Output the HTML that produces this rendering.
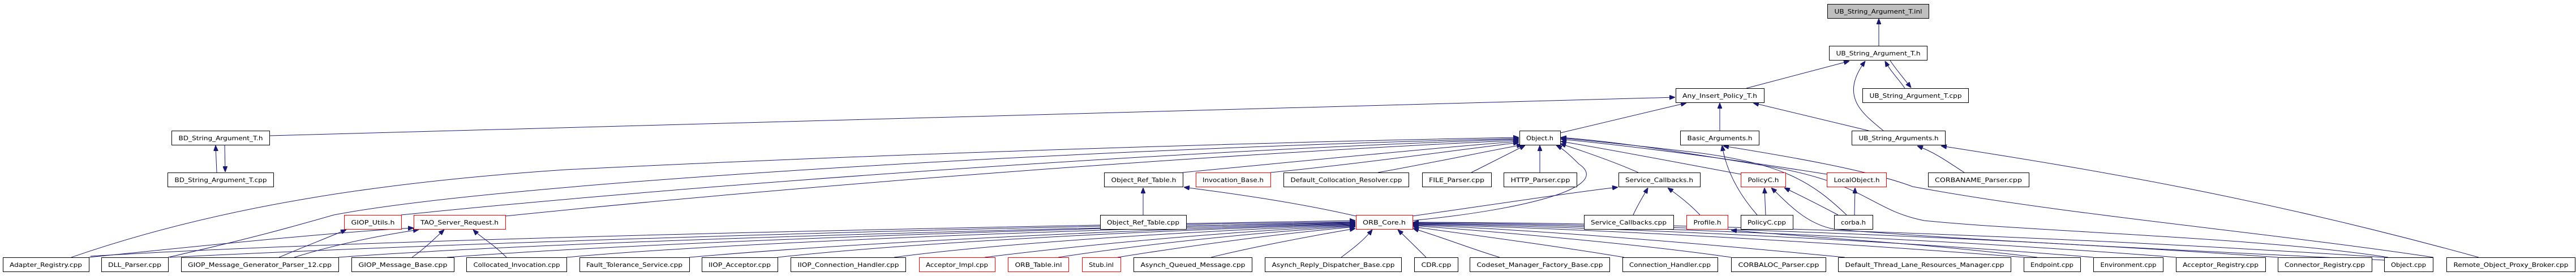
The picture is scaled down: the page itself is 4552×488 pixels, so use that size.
<!DOCTYPE html>
<html><head><meta charset="utf-8"><style>
html,body{margin:0;padding:0;background:#fff;}
svg{display:block;}
text{font-family:"DejaVu Sans","Liberation Sans",sans-serif;font-size:11px;fill:#000;}
.e{fill:none;stroke:#191970;stroke-width:1;}
.n{fill:#fff;stroke:#000;stroke-width:1;}
.r{fill:#fff;stroke:#ff0000;stroke-width:1;}
</style></head><body>
<svg width="4552" height="488" viewBox="0 0 4552 488" xmlns="http://www.w3.org/2000/svg">
<defs><marker id="a" markerUnits="userSpaceOnUse" markerWidth="10" markerHeight="8" refX="10" refY="4" orient="auto"><path d="M0,0 L10,4 L0,8 z" fill="#191970" stroke="#191970"/></marker></defs>
<g class="e" marker-end="url(#a)">
<path d="M3320,81 L3320,33"/>
<path d="M3086,156 L3268,108"/>
<path d="M3366,156 C3355,140 3340,125 3331,108"/>
<path d="M3340,107 C3350,122 3365,140 3377,155"/>
<path d="M3328,231 C3290,200 3250,170 3296,108"/>
<path d="M3302,231 L3098,182"/>
<path d="M3039,231 L3039,182"/>
<path d="M2757,235 L2980,182"/>
<path d="M476,240 L2960,172"/>
<path d="M383,305 L381,257"/>
<path d="M397,257 L398,304"/>
<!-- to Object.h -->
<path d="M126,455 C400,360 700,320 1000,300 C1600,270 2300,250 2684,243"/>
<path d="M297,455 C450,420 520,400 590,380 C900,320 2000,260 2684,245"/>
<path d="M709,380 C1200,330 2000,270 2684,246"/>
<path d="M893,382 C1400,330 2100,275 2684,248"/>
<path d="M2090,305 C2300,285 2550,260 2684,250"/>
<path d="M2245,305 C2400,290 2600,262 2684,252"/>
<path d="M2435,305 C2520,290 2640,265 2690,256"/>
<path d="M2600,305 L2695,257"/>
<path d="M2721,305 L2721,257"/>
<path d="M2496,390 C2700,370 2850,330 2790,290 C2770,270 2760,262 2750,257"/>
<path d="M2895,305 C2850,285 2800,268 2757,254"/>
<path d="M3076,308 C2950,285 2850,265 2758,250"/>
<path d="M3228,308 C3050,280 2900,260 2758,246"/>
<path d="M3263,380 C3200,320 3150,290 3000,270 C2900,258 2800,248 2758,244"/>
<path d="M4220,455 C4000,420 3600,410 3400,390 C3300,370 3300,320 3100,290 C2950,265 2850,250 2758,243"/>
<!-- Basic_Arguments / UB_String_Arguments -->
<path d="M3105,380 C3070,340 3050,300 3043,257"/>
<path d="M3471,305 C3440,285 3420,270 3388,258"/>
<path d="M4380,455 C4000,350 3700,300 3430,258"/>
<path d="M4300,455 C4000,410 3650,380 3380,330 C3300,300 3150,275 3045,258"/>
<!-- PolicyC / LocalObject / Service_Callbacks / Object_Ref_Table -->
<path d="M3120,380 L3118,332"/>
<path d="M3248,380 C3210,360 3180,345 3153,332"/>
<path d="M4213,460 C3800,440 3400,420 3240,405 C3190,395 3160,360 3130,332"/>
<path d="M3277,380 L3278,332"/>
<path d="M2886,380 C2895,360 2905,345 2912,332"/>
<path d="M3004,380 C2985,360 2965,345 2947,332"/>
<path d="M2496,382 C2650,360 2780,340 2859,331"/>
<path d="M2020,380 L2020,332"/>
<path d="M2396,382 C2300,360 2200,345 2092,331"/>
<path d="M3600,455 C3400,430 3200,420 3059,407"/>
<!-- GIOP utils / TAO_Server_Request -->
<path d="M493,455 C540,435 580,420 612,406"/>
<path d="M520,455 C600,430 680,415 740,406"/>
<path d="M728,455 C750,440 770,420 785,406"/>
<path d="M895,455 C870,430 850,420 836,406"/>
<path d="M157,455 C400,430 600,410 731,403"/>
<!-- bottom -> ORB_Core left -->
<path d="M160,453 C700,420 1800,400 2395,390"/>
<path d="M300,455 C900,425 1800,400 2395,392"/>
<path d="M598,455 C1000,425 1900,402 2395,394"/>
<path d="M790,455 C1200,425 1950,402 2395,393"/>
<path d="M1001,455 C1300,428 1950,404 2395,395"/>
<path d="M1218,455 C1500,430 2000,405 2395,396"/>
<path d="M1374,455 C1600,430 2050,406 2395,397"/>
<path d="M1580,455 C1750,432 2100,408 2395,398"/>
<path d="M1740,455 C1900,435 2150,410 2395,399"/>
<path d="M1870,455 C2000,435 2200,412 2395,400"/>
<path d="M1975,455 C2080,438 2250,414 2395,401"/>
<path d="M2140,455 C2200,440 2300,420 2395,404"/>
<path d="M2370,455 C2390,440 2410,425 2425,406"/>
<path d="M2520,455 C2505,440 2490,425 2470,406"/>
<!-- bottom -> ORB_Core right -->
<path d="M2650,455 C2600,440 2550,420 2497,404"/>
<path d="M2870,455 C2750,435 2600,415 2497,401"/>
<path d="M3059,455 C2900,432 2650,410 2497,399"/>
<path d="M3260,455 C3000,430 2700,405 2497,398"/>
<path d="M3576,455 C3200,425 2750,402 2497,397"/>
<path d="M3699,455 C3300,422 2800,400 2497,396"/>
<path d="M3845,455 C3400,420 2850,398 2497,395"/>
<path d="M4025,455 C3500,418 2900,396 2497,394"/>
<path d="M4213,455 C3600,415 2950,394 2497,393"/>
</g>
<g>
<rect class="n" x="3229.5" y="7.5" width="179" height="25" style="fill:#bfbfbf"/><text x="3319" y="24" text-anchor="middle" textLength="155" lengthAdjust="spacingAndGlyphs">UB_String_Argument_T.inl</text>
<rect class="n" x="3232.5" y="81.5" width="173" height="25"/><text x="3319" y="98" text-anchor="middle" textLength="149" lengthAdjust="spacingAndGlyphs">UB_String_Argument_T.h</text>
<rect class="n" x="2961.5" y="156.5" width="156" height="25"/><text x="3039" y="173" text-anchor="middle" textLength="132" lengthAdjust="spacingAndGlyphs">Any_Insert_Policy_T.h</text>
<rect class="n" x="3291.5" y="156.5" width="187" height="25"/><text x="3385" y="173" text-anchor="middle" textLength="163" lengthAdjust="spacingAndGlyphs">UB_String_Argument_T.cpp</text>
<rect class="n" x="303.5" y="231.5" width="173" height="25"/><text x="390" y="248" text-anchor="middle" textLength="149" lengthAdjust="spacingAndGlyphs">BD_String_Argument_T.h</text>
<rect class="n" x="2685.5" y="231.5" width="72" height="25"/><text x="2721" y="248" text-anchor="middle" textLength="48" lengthAdjust="spacingAndGlyphs">Object.h</text>
<rect class="n" x="2969.5" y="231.5" width="139" height="25"/><text x="3039" y="248" text-anchor="middle" textLength="115" lengthAdjust="spacingAndGlyphs">Basic_Arguments.h</text>
<rect class="n" x="3272.5" y="231.5" width="165" height="25"/><text x="3355" y="248" text-anchor="middle" textLength="141" lengthAdjust="spacingAndGlyphs">UB_String_Arguments.h</text>
<rect class="n" x="296.5" y="305.5" width="187" height="25"/><text x="390" y="322" text-anchor="middle" textLength="163" lengthAdjust="spacingAndGlyphs">BD_String_Argument_T.cpp</text>
<rect class="n" x="1951.5" y="305.5" width="139" height="25"/><text x="2021" y="322" text-anchor="middle" textLength="115" lengthAdjust="spacingAndGlyphs">Object_Ref_Table.h</text>
<rect class="r" x="2113.5" y="305.5" width="132" height="25"/><text x="2179" y="322" text-anchor="middle" textLength="108" lengthAdjust="spacingAndGlyphs">Invocation_Base.h</text>
<rect class="n" x="2268.5" y="305.5" width="221" height="25"/><text x="2379" y="322" text-anchor="middle" textLength="197" lengthAdjust="spacingAndGlyphs">Default_Collocation_Resolver.cpp</text>
<rect class="n" x="2513.5" y="305.5" width="122" height="25"/><text x="2574" y="322" text-anchor="middle" textLength="98" lengthAdjust="spacingAndGlyphs">FILE_Parser.cpp</text>
<rect class="n" x="2657.5" y="305.5" width="129" height="25"/><text x="2722" y="322" text-anchor="middle" textLength="105" lengthAdjust="spacingAndGlyphs">HTTP_Parser.cpp</text>
<rect class="n" x="2860.5" y="305.5" width="144" height="25"/><text x="2932" y="322" text-anchor="middle" textLength="120" lengthAdjust="spacingAndGlyphs">Service_Callbacks.h</text>
<rect class="r" x="3076.5" y="305.5" width="79" height="25"/><text x="3116" y="322" text-anchor="middle" textLength="55" lengthAdjust="spacingAndGlyphs">PolicyC.h</text>
<rect class="r" x="3228.5" y="305.5" width="105" height="25"/><text x="3281" y="322" text-anchor="middle" textLength="81" lengthAdjust="spacingAndGlyphs">LocalObject.h</text>
<rect class="n" x="3407.5" y="305.5" width="178" height="25"/><text x="3496" y="322" text-anchor="middle" textLength="154" lengthAdjust="spacingAndGlyphs">CORBANAME_Parser.cpp</text>
<rect class="r" x="608.5" y="380.5" width="101" height="25"/><text x="659" y="397" text-anchor="middle" textLength="77" lengthAdjust="spacingAndGlyphs">GIOP_Utils.h</text>
<rect class="r" x="731.5" y="380.5" width="162" height="25"/><text x="812" y="397" text-anchor="middle" textLength="138" lengthAdjust="spacingAndGlyphs">TAO_Server_Request.h</text>
<rect class="n" x="1944.5" y="380.5" width="152" height="25"/><text x="2020" y="397" text-anchor="middle" textLength="128" lengthAdjust="spacingAndGlyphs">Object_Ref_Table.cpp</text>
<rect class="r" x="2396.5" y="380.5" width="100" height="25"/><text x="2446" y="397" text-anchor="middle" textLength="76" lengthAdjust="spacingAndGlyphs">ORB_Core.h</text>
<rect class="n" x="2799.5" y="380.5" width="158" height="25"/><text x="2878" y="397" text-anchor="middle" textLength="134" lengthAdjust="spacingAndGlyphs">Service_Callbacks.cpp</text>
<rect class="r" x="2980.5" y="380.5" width="73" height="25"/><text x="3017" y="397" text-anchor="middle" textLength="49" lengthAdjust="spacingAndGlyphs">Profile.h</text>
<rect class="n" x="3076.5" y="380.5" width="92" height="25"/><text x="3122" y="397" text-anchor="middle" textLength="68" lengthAdjust="spacingAndGlyphs">PolicyC.cpp</text>
<rect class="n" x="3241.5" y="380.5" width="68" height="25"/><text x="3275" y="397" text-anchor="middle" textLength="44" lengthAdjust="spacingAndGlyphs">corba.h</text>
<rect class="n" x="5.5" y="455.5" width="152" height="25"/><text x="81" y="472" text-anchor="middle" textLength="128" lengthAdjust="spacingAndGlyphs">Adapter_Registry.cpp</text>
<rect class="n" x="179.5" y="455.5" width="118" height="25"/><text x="238" y="472" text-anchor="middle" textLength="94" lengthAdjust="spacingAndGlyphs">DLL_Parser.cpp</text>
<rect class="n" x="320.5" y="455.5" width="278" height="25"/><text x="459" y="472" text-anchor="middle" textLength="254" lengthAdjust="spacingAndGlyphs">GIOP_Message_Generator_Parser_12.cpp</text>
<rect class="n" x="621.5" y="455.5" width="181" height="25"/><text x="712" y="472" text-anchor="middle" textLength="157" lengthAdjust="spacingAndGlyphs">GIOP_Message_Base.cpp</text>
<rect class="n" x="824.5" y="455.5" width="177" height="25"/><text x="913" y="472" text-anchor="middle" textLength="153" lengthAdjust="spacingAndGlyphs">Collocated_Invocation.cpp</text>
<rect class="n" x="1024.5" y="455.5" width="194" height="25"/><text x="1121" y="472" text-anchor="middle" textLength="170" lengthAdjust="spacingAndGlyphs">Fault_Tolerance_Service.cpp</text>
<rect class="n" x="1240.5" y="455.5" width="134" height="25"/><text x="1307" y="472" text-anchor="middle" textLength="110" lengthAdjust="spacingAndGlyphs">IIOP_Acceptor.cpp</text>
<rect class="n" x="1397.5" y="455.5" width="203" height="25"/><text x="1499" y="472" text-anchor="middle" textLength="179" lengthAdjust="spacingAndGlyphs">IIOP_Connection_Handler.cpp</text>
<rect class="r" x="1624.5" y="455.5" width="134" height="25"/><text x="1691" y="472" text-anchor="middle" textLength="110" lengthAdjust="spacingAndGlyphs">Acceptor_Impl.cpp</text>
<rect class="r" x="1781.5" y="455.5" width="107" height="25"/><text x="1835" y="472" text-anchor="middle" textLength="83" lengthAdjust="spacingAndGlyphs">ORB_Table.inl</text>
<rect class="r" x="1912.5" y="455.5" width="68" height="25"/><text x="1946" y="472" text-anchor="middle" textLength="44" lengthAdjust="spacingAndGlyphs">Stub.inl</text>
<rect class="n" x="2003.5" y="455.5" width="209" height="25"/><text x="2108" y="472" text-anchor="middle" textLength="185" lengthAdjust="spacingAndGlyphs">Asynch_Queued_Message.cpp</text>
<rect class="n" x="2235.5" y="455.5" width="241" height="25"/><text x="2356" y="472" text-anchor="middle" textLength="217" lengthAdjust="spacingAndGlyphs">Asynch_Reply_Dispatcher_Base.cpp</text>
<rect class="n" x="2499.5" y="455.5" width="77" height="25"/><text x="2538" y="472" text-anchor="middle" textLength="53" lengthAdjust="spacingAndGlyphs">CDR.cpp</text>
<rect class="n" x="2597.5" y="455.5" width="247" height="25"/><text x="2721" y="472" text-anchor="middle" textLength="223" lengthAdjust="spacingAndGlyphs">Codeset_Manager_Factory_Base.cpp</text>
<rect class="n" x="2867.5" y="455.5" width="168" height="25"/><text x="2951" y="472" text-anchor="middle" textLength="144" lengthAdjust="spacingAndGlyphs">Connection_Handler.cpp</text>
<rect class="n" x="3059.5" y="455.5" width="167" height="25"/><text x="3143" y="472" text-anchor="middle" textLength="143" lengthAdjust="spacingAndGlyphs">CORBALOC_Parser.cpp</text>
<rect class="n" x="3248.5" y="455.5" width="305" height="25"/><text x="3401" y="472" text-anchor="middle" textLength="281" lengthAdjust="spacingAndGlyphs">Default_Thread_Lane_Resources_Manager.cpp</text>
<rect class="n" x="3576.5" y="455.5" width="100" height="25"/><text x="3626" y="472" text-anchor="middle" textLength="76" lengthAdjust="spacingAndGlyphs">Endpoint.cpp</text>
<rect class="n" x="3699.5" y="455.5" width="123" height="25"/><text x="3761" y="472" text-anchor="middle" textLength="99" lengthAdjust="spacingAndGlyphs">Environment.cpp</text>
<rect class="n" x="3845.5" y="455.5" width="158" height="25"/><text x="3924" y="472" text-anchor="middle" textLength="134" lengthAdjust="spacingAndGlyphs">Acceptor_Registry.cpp</text>
<rect class="n" x="4025.5" y="455.5" width="166" height="25"/><text x="4108" y="472" text-anchor="middle" textLength="142" lengthAdjust="spacingAndGlyphs">Connector_Registry.cpp</text>
<rect class="n" x="4213.5" y="455.5" width="86" height="25"/><text x="4256" y="472" text-anchor="middle" textLength="62" lengthAdjust="spacingAndGlyphs">Object.cpp</text>
<rect class="n" x="4323.5" y="455.5" width="227" height="25"/><text x="4437" y="472" text-anchor="middle" textLength="203" lengthAdjust="spacingAndGlyphs">Remote_Object_Proxy_Broker.cpp</text>
</g>
</svg>
</body></html>
